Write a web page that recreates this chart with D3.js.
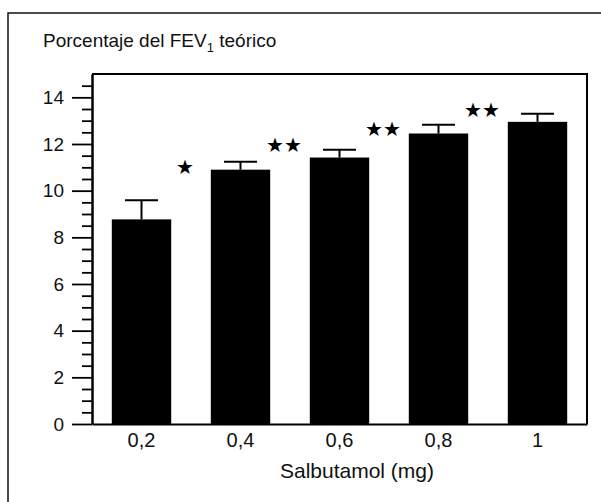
<!DOCTYPE html>
<html>
<head>
<meta charset="utf-8">
<script src="https://cdn.jsdelivr.net/npm/d3@7"></script>
<style>
  body { margin: 0; background: #fff; }
  svg { display: block; font-family: "Liberation Sans", Arial, sans-serif; }
</style>
</head>
<body>
<svg id="chart" width="601" height="502"></svg>
<script>
// data
const doses = ["0,2", "0,4", "0,6", "0,8", "1"];
const means = [8.77, 10.9, 11.42, 12.45, 12.95];
const errors = [0.82, 0.34, 0.33, 0.37, 0.35];
const starLabels = ["★", "★★", "★★", "★★"];
const starValues = [11.05, 12.0, 12.68, 13.48];
const yMajor = [0, 2, 4, 6, 8, 10, 12, 14];

const svg = d3.select("#chart");
const plotLeft = 92, plotRight = 587, plotTop = 74, plotBottom = 424;

// outer frame (only left and top edge are visible in the picture)
svg.append("rect")
    .attr("x", 8).attr("y", 13)
    .attr("width", 700).attr("height", 600)
    .attr("fill", "none")
    .attr("stroke", "#111")
    .attr("stroke-width", 1.5);

const x = d3.scaleBand()
    .domain(doses)
    .range([plotLeft, plotRight])
    .paddingInner(0.4)
    .paddingOuter(0.2);

const y = d3.scaleLinear()
    .domain([0, 15])
    .range([plotBottom, plotTop]);

// bars
svg.selectAll(".bar")
    .data(doses)
    .enter()
    .append("rect")
    .attr("class", "bar")
    .attr("x", d => x(d))
    .attr("y", (d, i) => y(means[i]))
    .attr("width", x.bandwidth())
    .attr("height", (d, i) => y(0) - y(means[i]))
    .attr("fill", "#000");

// error bars
const err = svg.append("g").attr("stroke", "#000").attr("stroke-width", 2);
doses.forEach((d, i) => {
    const cx = x(d) + x.bandwidth() / 2;
    err.append("line")
        .attr("x1", cx).attr("x2", cx)
        .attr("y1", y(means[i])).attr("y2", y(means[i] + errors[i]));
    err.append("line")
        .attr("x1", cx - 16.5).attr("x2", cx + 16.5)
        .attr("y1", y(means[i] + errors[i])).attr("y2", y(means[i] + errors[i]));
});

// significance stars, between consecutive bars
svg.selectAll(".star")
    .data(starLabels)
    .enter()
    .append("text")
    .attr("class", "star")
    .attr("x", (d, i) => (x(doses[i]) + x.bandwidth() + x(doses[i + 1])) / 2 - 6)
    .attr("y", (d, i) => y(starValues[i]))
    .attr("dy", "0.38em")
    .attr("text-anchor", "middle")
    .attr("font-family", "DejaVu Sans")
    .attr("font-size", 20)
    .attr("letter-spacing", 0)
    .text(d => d);

// plot box: top and right edges
svg.append("path")
    .attr("d", `M${plotLeft},${plotTop}H${plotRight}V${plotBottom}`)
    .attr("fill", "none")
    .attr("stroke", "#000")
    .attr("stroke-width", 2);

// y axis, major and minor ticks
const minor = d3.range(0.5, 15, 0.5).filter(v => v % 2 !== 0);
svg.append("g")
    .attr("transform", `translate(${plotLeft},0)`)
    .call(d3.axisLeft(y).tickValues(minor).tickSize(10).tickFormat(""))
    .call(g => g.select(".domain").remove())
    .call(g => g.selectAll("line").attr("stroke-width", 1.8));

const yAxis = svg.append("g")
    .attr("transform", `translate(${plotLeft},0)`)
    .call(d3.axisLeft(y).tickValues(yMajor).tickSize(20).tickPadding(8).tickSizeOuter(0));
yAxis.select(".domain").attr("stroke-width", 2.5);
yAxis.selectAll("line").attr("stroke-width", 1.8);
yAxis.selectAll("text")
    .attr("font-size", 19)
    .attr("font-family", "Liberation Sans, Arial, sans-serif")
    .attr("fill", "#111");

// x axis, baseline only with labels
const xAxis = svg.append("g")
    .attr("transform", `translate(0,${plotBottom})`)
    .call(d3.axisBottom(x).tickSize(0).tickPadding(9).tickSizeOuter(0));
xAxis.select(".domain").attr("stroke-width", 2);
xAxis.selectAll("text")
    .attr("font-size", 20)
    .attr("font-family", "Liberation Sans, Arial, sans-serif")
    .attr("fill", "#111");

// axis titles
svg.append("text")
    .attr("x", 357)
    .attr("y", 478)
    .attr("text-anchor", "middle")
    .attr("font-size", 21)
    .attr("fill", "#111")
    .text("Salbutamol (mg)");

const title = svg.append("text")
    .attr("x", 43)
    .attr("y", 47)
    .attr("font-size", 19)
    .attr("fill", "#111");
title.append("tspan").text("Porcentaje del FEV");
title.append("tspan").attr("font-size", 13).attr("dy", 5).text("1");
title.append("tspan").attr("dy", -5).text(" teórico");
</script>
</body>
</html>
